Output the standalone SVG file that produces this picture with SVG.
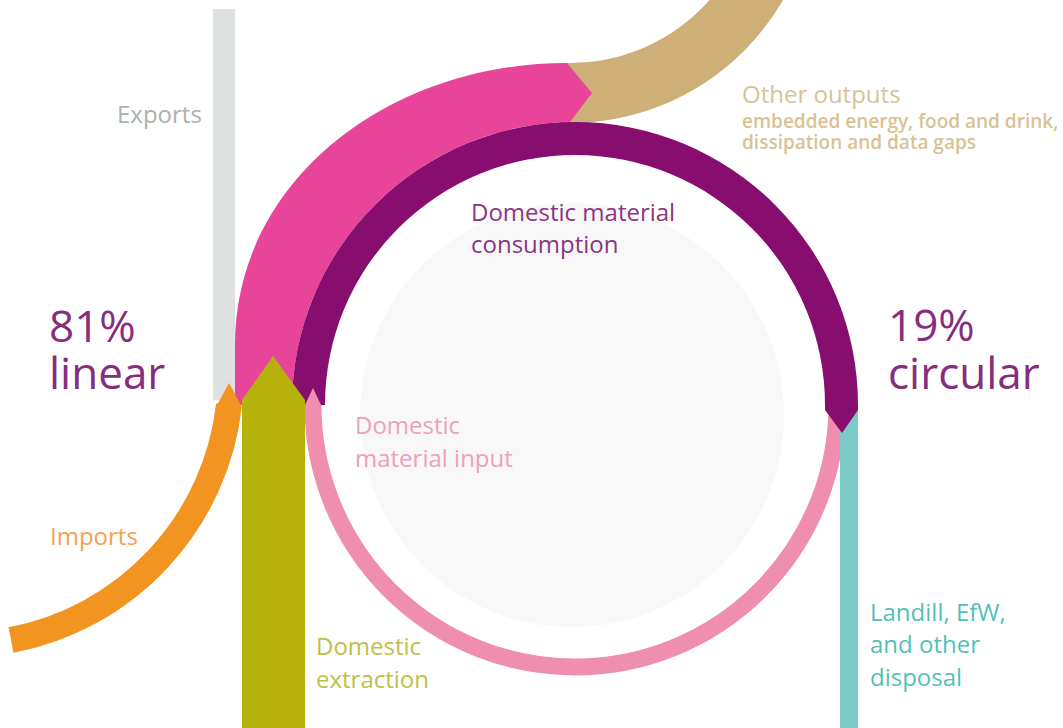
<svg xmlns="http://www.w3.org/2000/svg" width="1063" height="728" viewBox="0 0 1063 728">
<style>
text{font-family:"Open Sans","Noto Sans",sans-serif;}
.lbl{font-size:24px;}
.big{font-size:44px;fill:#862d7e;}
</style>
<rect width="1063" height="728" fill="#ffffff"/>
<circle id="core" cx="572" cy="415" r="212" fill="#f8f8f8"/>
<g id="flows">
  <rect id="exports-bar" x="213" y="9" width="22" height="391" fill="#dde1df"/>
  <path id="other-outputs-band" d="M560,93 L570,93 A216,216 0 0 0 786,-123" fill="none" stroke="#ceaf77" stroke-width="60"/>
  <path id="dmi-to-dmc" d="M235,405 L235,345 C235,180 390,63 567,63 L592,93 L570,122 A283,283 0 0 0 292,405 Z" fill="#e8449a"/>
  <path id="dmi-ring" d="M313,405 A262,262 0 0 0 837,405" fill="none" stroke="#f08eb0" stroke-width="17"/>
  <rect id="disposal-bar" x="840" y="410" width="18" height="318" fill="#7bcac5"/>
  <path id="dmc-ring" d="M292,405 A283,283 0 0 1 858,405 L858,410 L842,433 L825,410 L825,405 A250,250 0 0 0 325,405 Z" fill="#870d6f"/>
  <polygon id="dmi-tip" points="304.5,406 313,388 321.5,406" fill="#f08eb0"/>
  <path id="imports-band" d="M11,640 A270,270 0 0 0 229,405" fill="none" stroke="#f29420" stroke-width="26"/>
  <polygon id="imports-tip" points="216,407 229,383 242,407" fill="#f29420"/>
  <polygon id="extraction-arrow" points="242,728 242,400 273,356 305,400 305,728" fill="#b6b10b"/>
</g>
<g id="label-exports"><text class="lbl" x="117" y="123" fill="#a8b2ae">Exports</text></g>
<g id="label-other-outputs">
  <text x="742" y="103" font-size="24" fill="#d9c294">Other outputs</text>
  <text x="742" y="128" font-size="19" font-weight="600" fill="#d9c294">embedded energy, food and drink,</text>
  <text x="742" y="149" font-size="19" font-weight="600" fill="#d9c294">dissipation and data gaps</text>
</g>
<g id="label-dmc">
  <text class="lbl" x="471" y="221" font-size="25" fill="#8c3584">Domestic material</text>
  <text class="lbl" x="471" y="253" font-size="25" fill="#8c3584">consumption</text>
</g>
<g id="label-linear">
  <text class="big" x="49" y="342">81%</text>
  <text class="big" x="49" y="389">linear</text>
</g>
<g id="label-circular">
  <text class="big" x="888" y="341">19%</text>
  <text class="big" x="888" y="389">circular</text>
</g>
<g id="label-dmi">
  <text class="lbl" x="355" y="434" fill="#efa0bb">Domestic</text>
  <text class="lbl" x="355" y="467" fill="#efa0bb">material input</text>
</g>
<g id="label-imports"><text class="lbl" x="50" y="545" fill="#f3a252">Imports</text></g>
<g id="label-extraction">
  <text class="lbl" x="316" y="655" fill="#bdbf4a">Domestic</text>
  <text class="lbl" x="316" y="688" fill="#bdbf4a">extraction</text>
</g>
<g id="label-disposal">
  <text class="lbl" x="870" y="621" fill="#55bfb8">Landill, EfW,</text>
  <text class="lbl" x="870" y="653" fill="#55bfb8">and other</text>
  <text class="lbl" x="870" y="686" fill="#55bfb8">disposal</text>
</g>
</svg>
